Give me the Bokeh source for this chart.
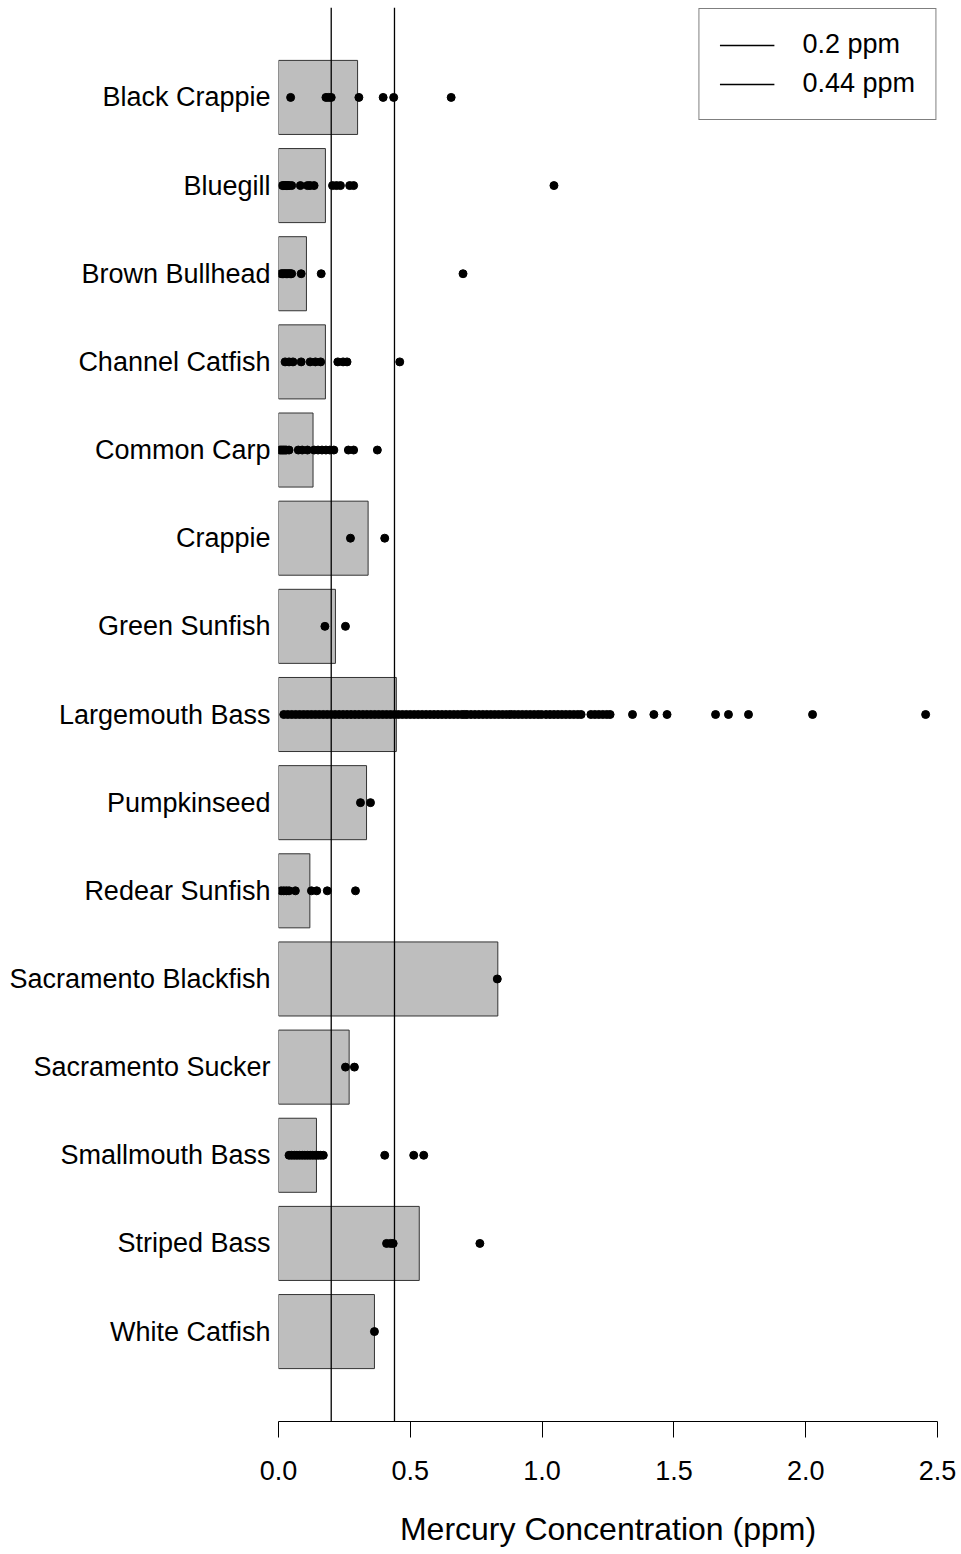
from bokeh.plotting import figure
from bokeh.models import (FactorRange, Range1d, Span, FixedTicker, PrintfTickFormatter,
                          Legend, LegendItem)
from bokeh.embed import file_html
from bokeh.resources import INLINE

species = ["Black Crappie", "Bluegill", "Brown Bullhead", "Channel Catfish", "Common Carp",
           "Crappie", "Green Sunfish", "Largemouth Bass", "Pumpkinseed", "Redear Sunfish",
           "Sacramento Blackfish", "Sacramento Sucker", "Smallmouth Bass", "Striped Bass",
           "White Catfish"]
mean_ppm = [0.300, 0.178, 0.106, 0.178, 0.131, 0.340, 0.216, 0.447, 0.334, 0.119,
            0.832, 0.268, 0.144, 0.534, 0.364]

black_crappie = [0.046, 0.18, 0.19, 0.20, 0.305, 0.397, 0.437, 0.655]
bluegill = [0.015, 0.02, 0.025, 0.03, 0.035, 0.04, 0.05, 0.083, 0.11, 0.12, 0.135,
            0.205, 0.22, 0.235, 0.27, 0.285, 1.045]
brown_bullhead = [0.01, 0.015, 0.02, 0.025, 0.03, 0.035, 0.04, 0.045, 0.05, 0.086, 0.162, 0.70]
channel_catfish = [0.025, 0.04, 0.055, 0.086, 0.12, 0.14, 0.16, 0.225, 0.245, 0.26, 0.46]
common_carp = [0.005, 0.01, 0.015, 0.02, 0.025, 0.03, 0.04, 0.075, 0.09, 0.11, 0.135, 0.15,
               0.165, 0.18, 0.195, 0.21, 0.265, 0.285, 0.375]
crappie = [0.273, 0.403]
green_sunfish = [0.176, 0.254]
largemouth_bass = [0.02, 0.035, 0.05, 0.065, 0.08, 0.095, 0.11, 0.125, 0.14, 0.155, 0.17,
                   0.185, 0.20, 0.215, 0.23, 0.245, 0.26, 0.275, 0.29, 0.305, 0.32, 0.335,
                   0.35, 0.365, 0.38, 0.395, 0.41, 0.425, 0.44, 0.455, 0.47, 0.485, 0.50,
                   0.515, 0.53, 0.545, 0.56, 0.575, 0.59, 0.605, 0.62, 0.635, 0.65, 0.665,
                   0.68, 0.695, 0.705, 0.715, 0.73, 0.745, 0.76, 0.775, 0.79, 0.805, 0.82,
                   0.835, 0.85, 0.865, 0.88, 0.895, 0.91, 0.925, 0.94, 0.955, 0.97, 0.985,
                   0.998, 1.015, 1.03, 1.045, 1.06, 1.075, 1.09, 1.105, 1.12, 1.135, 1.148,
                   1.185, 1.20, 1.215, 1.23, 1.245, 1.258, 1.343, 1.424, 1.474, 1.658, 1.707,
                   1.783, 2.026, 2.455]
pumpkinseed = [0.311, 0.349]
redear_sunfish = [0.01, 0.02, 0.03, 0.04, 0.064, 0.125, 0.145, 0.185, 0.292]
sacramento_blackfish = [0.83]
sacramento_sucker = [0.254, 0.288]
smallmouth_bass = [0.04, 0.05, 0.06, 0.07, 0.08, 0.09, 0.10, 0.11, 0.12, 0.13, 0.14, 0.15,
                   0.16, 0.17, 0.403, 0.513, 0.551]
striped_bass = [0.41, 0.425, 0.435, 0.764]
white_catfish = [0.364]

samples = [black_crappie, bluegill, brown_bullhead, channel_catfish, common_carp, crappie,
           green_sunfish, largemouth_bass, pumpkinseed, redear_sunfish, sacramento_blackfish,
           sacramento_sucker, smallmouth_bass, striped_bass, white_catfish]

thresholds = [0.2, 0.44]
threshold_labels = ["0.2 ppm", "0.44 ppm"]
x_ticks = [0.0, 0.5, 1.0, 1.5, 2.0, 2.5]

FONT = "Liberation Sans"

p = figure(width=958, height=1550, output_backend="svg", toolbar_location=None,
           y_range=FactorRange(*reversed(species), range_padding=0.52,
                               range_padding_units="absolute"),
           x_range=Range1d(0, 2.5),
           min_border_left=278, min_border_right=21, min_border_top=7, min_border_bottom=129)
p.outline_line_color = None
p.grid.visible = False
p.background_fill_color = "white"

p.hbar(y=species, right=mean_ppm, left=0, height=0.84, fill_color="#BEBEBE",
       line_color="#333333", line_width=1)

for t in thresholds:
    p.add_layout(Span(location=t, dimension="height", line_color="black", line_width=1.3))

px, py = [], []
for sp, vals in zip(species, samples):
    for v in vals:
        px.append(v)
        py.append(sp)
p.scatter(x=px, y=py, size=8, fill_color="black", line_color="black")

# legend (zero-length line renderers at the thresholds, only used as legend glyphs)
items = []
for t, lab in zip(thresholds, threshold_labels):
    r = p.line(x=[t, t], y=[species[0], species[0]], line_color="black", line_width=1.3,
               line_cap="butt")
    items.append(LegendItem(label=lab, renderers=[r]))
leg = Legend(items=items, location="top_right", margin=1, padding=20, spacing=8,
             glyph_width=55, glyph_height=30, label_height=30, label_standoff=28,
             label_text_font=FONT, label_text_font_size="27px", label_text_color="black",
             border_line_color="black", border_line_width=1, background_fill_alpha=1)
p.add_layout(leg, "center")

xa = p.xaxis[0]
xa.ticker = FixedTicker(ticks=x_ticks)
xa.formatter = PrintfTickFormatter(format="%.1f")
xa.axis_line_color = "black"
xa.major_tick_line_color = "black"
xa.major_tick_out = 16
xa.major_tick_in = 0
xa.minor_tick_line_color = None
xa.major_label_text_font = FONT
xa.major_label_text_font_size = "27px"
xa.major_label_text_color = "black"
xa.major_label_standoff = 23
xa.axis_label = "Mercury Concentration (ppm)"
xa.axis_label_text_font = FONT
xa.axis_label_text_font_size = "32px"
xa.axis_label_text_font_style = "normal"
xa.axis_label_text_color = "black"
xa.axis_label_standoff = 28

ya = p.yaxis[0]
ya.axis_line_color = None
ya.major_tick_line_color = None
ya.minor_tick_line_color = None
ya.major_label_text_font = FONT
ya.major_label_text_font_size = "27px"
ya.major_label_text_color = "black"
ya.major_label_standoff = 2

open("out.html", "w").write(file_html(p, INLINE))
